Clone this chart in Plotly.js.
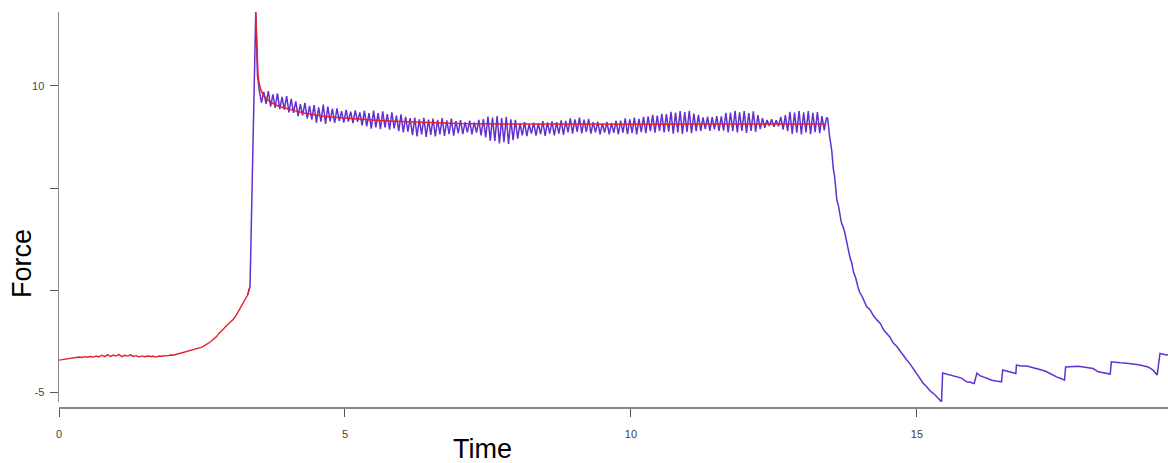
<!DOCTYPE html>
<html>
<head>
<meta charset="utf-8">
<script src="https://cdn.plot.ly/plotly-3.0.1.min.js"></script>
<style>
html,body{margin:0;padding:0;background:#fff;}
#chart{width:1168px;height:463px;}
</style>
</head>
<body>
<div id="chart"></div>
<script>
// ---- Data ----
// Red pre-stimulus baseline, sampled every 0.05 s from t = 0
const baselineT0 = 0;
const baselineDt = 0.05;
const baselineForce = [
  -3.42, -3.40, -3.36, -3.35, -3.32, -3.30, -3.31, -3.27, -3.29, -3.25,
  -3.28, -3.24, -3.27, -3.22, -3.26, -3.18, -3.25, -3.15, -3.24, -3.17,
  -3.22, -3.14, -3.25, -3.18, -3.22, -3.16, -3.24, -3.20, -3.26, -3.21,
  -3.25, -3.22, -3.24, -3.23, -3.27, -3.22, -3.23, -3.20, -3.21, -3.17,
  -3.18, -3.14, -3.12, -3.06, -3.05, -2.99, -2.97, -2.90, -2.86, -2.84,
  -2.78, -2.70, -2.62, -2.52, -2.40, -2.28, -2.10, -1.98, -1.82, -1.68,
  -1.55, -1.42, -1.22, -0.98, -0.72, -0.48, -0.22
];

// Red fitted decay after the peak
const fitTime  = [3.44, 3.45, 3.46, 3.47, 3.48, 3.50, 3.53, 3.57, 3.63, 3.70, 3.80, 3.90, 4.00, 4.16, 4.30, 4.45, 4.60, 4.74, 5.00, 5.31, 5.60, 5.96, 6.49, 7.00, 7.71, 8.50, 9.46, 10.50, 11.21, 12.30, 13.41];
const fitForce = [13.6, 12.9, 12.0, 11.0, 10.5, 10.1, 9.80, 9.55, 9.35, 9.20, 9.05, 8.95, 8.86, 8.75, 8.66, 8.58, 8.52, 8.47, 8.41, 8.35, 8.30, 8.25, 8.19, 8.15, 8.13, 8.12, 8.12, 8.12, 8.13, 8.13, 8.13];

// Purple measured trace: rise to the peak
const riseTime  = [3.30, 3.34, 3.44, 3.47];
const riseForce = [-0.22, 0.20, 13.6, 10.5];

// Purple oscillating plateau, sampled every 0.04 s from t = 3.50
const plateauT0 = 3.50;
const plateauDt = 0.04;
const plateauForce = [
  9.80, 9.18, 9.70, 9.12, 9.74, 8.98, 9.58, 8.92, 9.63, 8.86,
  9.46, 8.84, 9.49, 8.70, 9.36, 8.68, 9.24, 8.52, 9.10, 8.55,
  9.16, 8.40, 9.02, 8.34, 9.06, 8.20, 8.94, 8.25, 9.08, 8.14,
  8.98, 8.26, 8.88, 8.19, 8.90, 8.28, 8.76, 8.20, 8.82, 8.25,
  8.74, 8.18, 8.80, 8.24, 8.70, 8.06, 8.78, 8.02, 8.66, 7.90,
  8.79, 7.97, 8.66, 7.88, 8.75, 7.96, 8.62, 7.86, 8.70, 7.92,
  8.54, 7.78, 8.60, 7.72, 8.48, 7.76, 8.42, 7.58, 8.44, 7.52,
  8.36, 7.62, 8.43, 7.50, 8.35, 7.60, 8.40, 7.52, 8.34, 7.62,
  8.42, 7.55, 8.31, 7.64, 8.39, 7.56, 8.27, 7.68, 8.32, 7.64,
  8.22, 7.72, 8.30, 7.62, 8.21, 7.71, 8.33, 7.58, 8.37, 7.48,
  8.49, 7.32, 8.44, 7.30, 8.52, 7.18, 8.42, 7.24, 8.48, 7.16,
  8.36, 7.34, 8.34, 7.42, 8.16, 7.58, 8.22, 7.54, 8.12, 7.66,
  8.20, 7.56, 8.16, 7.64, 8.27, 7.55, 8.21, 7.66, 8.26, 7.57,
  8.22, 7.66, 8.31, 7.60, 8.28, 7.72, 8.41, 7.66, 8.36, 7.75,
  8.44, 7.67, 8.34, 7.75, 8.38, 7.66, 8.22, 7.72, 8.24, 7.62,
  8.15, 7.71, 8.23, 7.62, 8.19, 7.70, 8.29, 7.63, 8.30, 7.71,
  8.41, 7.63, 8.36, 7.70, 8.45, 7.62, 8.38, 7.73, 8.48, 7.68,
  8.50, 7.78, 8.58, 7.71, 8.54, 7.79, 8.63, 7.72, 8.62, 7.76,
  8.73, 7.66, 8.69, 7.72, 8.76, 7.65, 8.72, 7.75, 8.77, 7.68,
  8.64, 7.78, 8.58, 7.80, 8.45, 7.88, 8.49, 7.80, 8.47, 7.87,
  8.52, 7.79, 8.51, 7.81, 8.68, 7.72, 8.69, 7.78, 8.77, 7.72,
  8.70, 7.79, 8.76, 7.70, 8.67, 7.79, 8.75, 7.74, 8.57, 7.88,
  8.42, 7.95, 8.33, 8.03, 8.36, 7.99, 8.31, 8.02, 8.48, 7.86,
  8.57, 7.78, 8.73, 7.65, 8.69, 7.71, 8.77, 7.62, 8.70, 7.72,
  8.76, 7.63, 8.68, 7.73, 8.71, 7.68, 8.52, 7.82, 8.45
];

// Purple relaxation and recovery phase
const relaxTime = [
  13.44, 13.47, 13.51, 13.54, 13.56, 13.60, 13.63, 13.68, 13.71, 13.74,
  13.77, 13.80, 13.83, 13.86, 13.89, 13.93, 13.97, 14.00, 14.05, 14.12,
  14.18, 14.24, 14.30, 14.36, 14.42, 14.47, 14.53, 14.59, 14.65, 14.70,
  14.76, 14.82, 14.88, 14.94, 14.99, 15.05, 15.11, 15.17, 15.24, 15.31,
  15.37, 15.43, 15.45, 15.52, 15.60, 15.69, 15.78, 15.87, 15.94, 15.99,
  16.00, 16.05, 16.10, 16.16, 16.23, 16.31, 16.38, 16.45, 16.48, 16.50,
  16.56, 16.63, 16.71, 16.73, 16.74, 16.82, 16.92, 17.00, 17.09, 17.18,
  17.27, 17.35, 17.44, 17.52, 17.58, 17.60, 17.66, 17.73, 17.82, 17.91,
  18.00, 18.08, 18.17, 18.23, 18.29, 18.38, 18.40, 18.47, 18.55, 18.63,
  18.72, 18.81, 18.90, 18.97, 19.04, 19.13, 19.20, 19.25, 19.30, 19.36,
  19.40
];
const relaxForce = [
  8.40, 7.60, 6.85, 5.90, 5.60, 4.40, 4.10, 3.30, 3.10, 2.80,
  2.30, 2.00, 1.60, 1.35, 0.90, 0.60, 0.15, -0.10, -0.35, -0.80,
  -0.95, -1.25, -1.45, -1.62, -1.95, -2.10, -2.30, -2.60, -2.75, -2.95,
  -3.20, -3.40, -3.60, -3.85, -4.05, -4.25, -4.55, -4.72, -4.95, -5.10,
  -5.30, -5.46, -4.05, -4.10, -4.18, -4.24, -4.30, -4.48, -4.50, -4.56,
  -4.56, -4.05, -4.18, -4.24, -4.32, -4.40, -4.44, -4.48, -4.48, -3.90,
  -3.95, -3.99, -4.07, -4.07, -3.66, -3.70, -3.71, -3.76, -3.83, -3.90,
  -3.99, -4.12, -4.24, -4.32, -4.40, -3.75, -3.74, -3.75, -3.72, -3.75,
  -3.78, -3.83, -3.99, -4.02, -4.07, -4.10, -3.50, -3.53, -3.55, -3.56,
  -3.58, -3.62, -3.66, -3.70, -3.75, -3.91, -4.15, -3.09, -3.12, -3.17,
  -3.15
];

// Axis ticks
const yTickVals = [-5, 0, 5, 10];
const yTickText = ['-5', '', '', '10'];
const xTickVals = [0, 5, 10, 15];
const xTickText = ['0', '5', '10', '15'];

// ---- Build traces ----
const baselineTime = baselineForce.map((_, i) => +(baselineT0 + i * baselineDt).toFixed(3));
const plateauTime = plateauForce.map((_, i) => +(plateauT0 + i * plateauDt).toFixed(3));

const purpleT = riseTime.concat(plateauTime, relaxTime);
const purpleF = riseForce.concat(plateauForce, relaxForce);

const PURPLE = '#6230cf';
const RED = '#e3212d';

const traces = [
  {x: purpleT, y: purpleF, type: 'scatter', mode: 'lines',
   line: {color: PURPLE, width: 1.5}, hoverinfo: 'skip'},
  {x: baselineTime.concat([3.34]), y: baselineForce.concat([0.17]), type: 'scatter', mode: 'lines',
   line: {color: RED, width: 1.4}, hoverinfo: 'skip'},
  {x: fitTime, y: fitForce, type: 'scatter', mode: 'lines',
   line: {color: RED, width: 1.5}, hoverinfo: 'skip'}
];

const layout = {
  width: 1168, height: 463,
  margin: {l: 59, r: 0, t: 12, b: 55, pad: 0},
  paper_bgcolor: '#ffffff', plot_bgcolor: '#ffffff',
  showlegend: false,
  font: {family: 'Liberation Sans, Arial, sans-serif', color: '#444'},
  xaxis: {
    range: [0, 19.39], anchor: 'free', position: 0,
    showgrid: false, zeroline: false,
    showline: true, linecolor: '#8a8a8a', linewidth: 2,
    ticks: 'outside', ticklen: 8, tickwidth: 1, tickcolor: '#555',
    tickvals: xTickVals, ticktext: xTickText,
    tickfont: {size: 11, color: '#444'}, ticklabelstandoff: 8
  },
  yaxis: {
    range: [-5.47, 13.61], domain: [0.015, 1],
    showgrid: false, zeroline: false,
    showline: true, linecolor: '#8a8a8a', linewidth: 1.5,
    ticks: 'outside', ticklen: 8, tickwidth: 1, tickcolor: '#555',
    tickvals: yTickVals, ticktext: yTickText,
    tickfont: {size: 11, color: '#444'}, ticklabelstandoff: 3
  },
  annotations: [
    {text: 'Time', xref: 'paper', yref: 'paper', x: 0.3823, y: -0.1035,
     xanchor: 'center', yanchor: 'middle', showarrow: false,
     font: {size: 27, color: '#000', family: 'Liberation Sans, Arial, sans-serif'}},
    {text: 'Force', xref: 'paper', yref: 'paper', x: -0.0334, y: 0.366,
     xanchor: 'center', yanchor: 'middle', showarrow: false, textangle: -90,
     font: {size: 27, color: '#000', family: 'Liberation Sans, Arial, sans-serif'}}
  ]
};

Plotly.newPlot('chart', traces, layout, {staticPlot: true, displayModeBar: false});
</script>
</body>
</html>
